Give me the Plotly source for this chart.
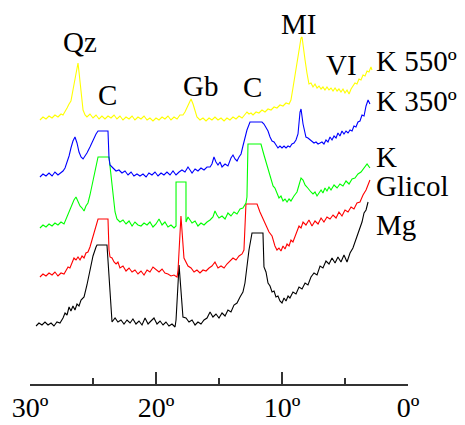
import plotly.graph_objects as go

# ---- data: 2-theta (degrees) and intensity (arbitrary units, offset per trace) ----
theta_mg = [29.52, 29.29, 29.05, 28.81, 28.57, 28.33, 28.10, 27.86, 27.62, 27.38, 27.22, 27.06, 26.90, 26.75, 26.59,
            26.43, 26.27, 26.11, 25.95, 25.71, 25.48, 25.24, 25.00, 24.76, 24.68, 23.89, 23.49, 23.25, 23.02, 22.78,
            22.54, 22.30, 22.06, 21.83, 21.59, 21.35, 21.11, 20.87, 20.63, 20.40, 20.16, 19.92, 19.68, 19.44, 19.21,
            18.97, 18.73, 18.49, 18.41, 18.17, 17.94, 17.86, 17.62, 17.38, 17.14, 16.90, 16.67, 16.43, 16.19, 15.95,
            15.71, 15.48, 15.24, 15.00, 14.76, 14.52, 14.29, 14.05, 13.81, 13.57, 13.33, 13.10, 12.94, 12.78, 12.62,
            12.38, 11.51, 11.43, 11.27, 11.11, 10.95, 10.79, 10.63, 10.48, 10.32, 10.16, 10.00, 9.84, 9.68, 9.52,
            9.37, 9.13, 8.89, 8.65, 8.41, 8.17, 7.94, 7.70, 7.46, 7.22, 6.98, 6.75, 6.51, 6.27, 6.03,
            5.79, 5.56, 5.32, 5.08, 4.84, 4.60, 4.37, 4.13, 3.89, 3.65, 3.49, 3.33, 3.17]
int_mg = [58, 61, 59, 62, 59, 61, 58, 62, 61, 66, 71, 69, 77, 73, 78,
          74, 80, 78, 84, 87, 99, 114, 128, 137, 139, 139, 62, 66, 62, 64,
          60, 64, 61, 65, 60, 63, 59, 66, 60, 63, 66, 60, 63, 59, 62,
          58, 60, 57, 64, 119, 84, 67, 66, 62, 64, 59, 62, 60, 64, 66,
          72, 67, 70, 66, 71, 68, 74, 72, 79, 81, 87, 92, 101, 119, 134,
          151, 151, 117, 112, 101, 98, 92, 93, 87, 88, 83, 81, 86, 83, 88,
          86, 92, 90, 97, 95, 101, 99, 107, 111, 109, 118, 116, 123, 120, 126,
          121, 127, 122, 129, 122, 131, 136, 144, 152, 162, 171, 174, 182]

theta_glicol = [29.21, 28.97, 28.73, 28.49, 28.25, 28.02, 27.78, 27.54, 27.30, 27.14, 26.98, 26.83, 26.67, 26.51, 26.35,
                26.19, 26.03, 25.87, 25.71, 25.56, 25.40, 25.24, 25.08, 24.92, 24.76, 24.60, 23.81, 23.73, 23.65, 23.49,
                23.33, 23.17, 23.02, 22.86, 22.62, 22.38, 22.14, 21.90, 21.67, 21.43, 21.19, 20.95, 20.71, 20.48, 20.24,
                20.00, 19.76, 19.52, 19.29, 19.05, 18.81, 18.57, 18.33, 18.25, 18.02, 17.78, 17.62, 17.46, 17.22, 16.98,
                16.75, 16.51, 16.27, 16.03, 15.79, 15.56, 15.32, 15.08, 14.84, 14.60, 14.37, 14.13, 13.89, 13.65, 13.41,
                13.17, 13.02, 12.86, 11.98, 11.75, 11.51, 11.27, 11.03, 10.79, 10.56, 10.40, 10.24, 10.08, 9.92, 9.76,
                9.60, 9.44, 9.29, 9.13, 8.97, 8.81, 8.65, 8.49, 8.33, 8.10, 7.86, 7.62, 7.38, 7.14, 6.90,
                6.67, 6.43, 6.19, 5.95, 5.71, 5.48, 5.24, 5.00, 4.76, 4.52, 4.29, 4.05, 3.81, 3.57, 3.33,
                3.17, 3.02]
int_glicol = [107, 110, 108, 111, 109, 112, 108, 111, 110, 114, 117, 116, 122, 126, 124,
              127, 124, 128, 126, 131, 132, 137, 144, 151, 158, 165, 165, 134, 127, 126,
              122, 120, 122, 116, 118, 113, 116, 112, 114, 110, 113, 109, 114, 112, 117,
              114, 112, 115, 111, 110, 108, 109, 107, 114, 168, 126, 122, 118, 116, 112,
              114, 111, 114, 113, 116, 118, 122, 116, 118, 116, 120, 123, 126, 124, 128,
              130, 134, 180, 180, 172, 165, 158, 152, 148, 138, 134, 136, 133, 138, 135,
              140, 138, 144, 142, 148, 152, 158, 156, 162, 159, 164, 158, 163, 160, 166,
              162, 167, 165, 169, 166, 172, 168, 174, 172, 177, 175, 181, 182, 189, 194,
              199, 204]

theta_k = [29.21, 28.97, 28.73, 28.49, 28.25, 28.02, 27.78, 27.54, 27.30, 27.14, 26.98, 26.83, 26.67, 26.51, 26.35,
           26.19, 26.03, 25.87, 25.71, 25.56, 25.40, 25.24, 25.08, 24.92, 24.76, 24.60, 23.73, 23.57, 23.41, 23.25,
           23.10, 22.86, 22.62, 22.38, 22.14, 21.90, 21.67, 21.43, 21.19, 20.95, 20.71, 20.48, 20.24, 20.00, 19.76,
           19.52, 19.29, 19.05, 18.81, 18.57, 18.41, 18.41, 17.62, 17.62, 17.46, 17.30, 17.14, 16.90, 16.67, 16.43,
           16.19, 15.95, 15.71, 15.48, 15.32, 15.16, 15.00, 14.76, 14.52, 14.29, 14.05, 13.81, 13.57, 13.33, 13.10,
           12.86, 12.78, 12.70, 11.67, 11.43, 11.19, 10.95, 10.71, 10.56, 10.40, 10.24, 10.08, 9.92, 9.76, 9.60,
           9.44, 9.29, 9.05, 8.81, 8.65, 8.49, 8.33, 8.17, 8.02, 7.86, 7.70, 7.54, 7.38, 7.22, 7.06,
           6.90, 6.75, 6.59, 6.43, 6.27, 6.11, 5.87, 5.63, 5.40, 5.16, 4.92, 4.68, 4.44, 4.21, 3.97,
           3.73, 3.49, 3.25, 3.02]
int_k = [156, 159, 157, 160, 158, 161, 159, 162, 160, 165, 168, 174, 178, 184, 187,
         182, 178, 176, 173, 178, 181, 189, 199, 209, 219, 227, 227, 209, 189, 172,
         165, 162, 164, 160, 163, 158, 162, 159, 158, 161, 159, 162, 157, 160, 165,
         159, 162, 157, 159, 156, 158, 202, 202, 162, 167, 164, 161, 163, 158, 161,
         159, 162, 164, 167, 173, 169, 166, 168, 165, 171, 168, 172, 170, 175, 176,
         181, 187, 240, 240, 229, 218, 207, 198, 196, 191, 186, 188, 183, 185, 182,
         185, 183, 188, 192, 199, 206, 204, 199, 197, 194, 192, 190, 192, 188, 191,
         194, 191, 196, 193, 197, 194, 199, 196, 200, 198, 203, 200, 205, 206, 210,
         212, 216, 220, 216]

theta_k350 = [29.21, 28.97, 28.73, 28.49, 28.25, 28.02, 27.78, 27.54, 27.38, 27.22, 27.06, 26.90, 26.75, 26.59, 26.43,
              26.27, 26.11, 25.95, 25.79, 25.63, 25.48, 25.24, 25.00, 24.76, 24.60, 23.81, 23.73, 23.65, 23.41, 23.17,
              22.94, 22.70, 22.46, 22.22, 21.98, 21.75, 21.51, 21.27, 21.03, 20.79, 20.56, 20.32, 20.08, 19.84, 19.60,
              19.37, 19.13, 18.89, 18.65, 18.41, 18.17, 17.94, 17.70, 17.46, 17.30, 17.14, 16.90, 16.67, 16.43, 16.19,
              15.95, 15.71, 15.56, 15.40, 15.24, 15.08, 14.92, 14.76, 14.52, 14.29, 14.05, 13.89, 13.73, 13.57, 13.41,
              13.25, 13.10, 12.94, 12.78, 12.54, 11.59, 11.43, 11.27, 11.11, 10.95, 10.79, 10.63, 10.48, 10.32, 10.16,
              10.00, 9.84, 9.68, 9.52, 9.37, 9.21, 9.05, 8.89, 8.73, 8.57, 8.49, 8.33, 8.17, 8.10, 7.94, 7.78,
              7.62, 7.46, 7.30, 7.14, 6.98, 6.83, 6.67, 6.51, 6.35, 6.19, 6.03, 5.87, 5.71, 5.56, 5.40,
              5.24, 5.08, 4.92, 4.76, 4.60, 4.44, 4.29, 4.13, 3.97, 3.81, 3.65, 3.49, 3.33, 3.17, 3.02]
int_k350 = [207, 210, 208, 211, 208, 212, 209, 211, 213, 216, 221, 228, 236, 243, 247,
            241, 232, 227, 225, 228, 231, 237, 244, 250, 253, 253, 226, 219, 216, 213,
            214, 211, 213, 209, 212, 208, 210, 208, 210, 207, 211, 209, 212, 208, 211,
            209, 212, 209, 213, 209, 212, 214, 212, 217, 214, 211, 215, 213, 216, 214,
            217, 217, 220, 227, 222, 219, 222, 217, 220, 218, 226, 229, 225, 223, 227,
            230, 238, 246, 254, 262, 262, 260, 256, 253, 247, 243, 242, 239, 236, 238,
            236, 238, 236, 238, 237, 240, 241, 244, 250, 272, 275, 260, 250, 247, 246, 244,
            243, 241, 242, 240, 241, 242, 240, 244, 242, 247, 244, 248, 246, 251, 248,
            253, 250, 253, 251, 254, 253, 258, 257, 262, 263, 269, 268, 278, 284, 280]

theta_k550 = [29.21, 28.97, 28.73, 28.49, 28.25, 28.02, 27.78, 27.54, 27.38, 27.22, 27.06, 26.90, 26.75, 26.59, 26.43,
              26.27, 26.19, 26.11, 25.95, 25.79, 25.63, 25.48, 25.24, 25.00, 24.76, 24.52, 24.29, 24.05, 23.81, 23.57,
              23.33, 23.10, 22.86, 22.62, 22.38, 22.14, 21.90, 21.67, 21.43, 21.19, 20.95, 20.71, 20.48, 20.24, 20.00,
              19.76, 19.52, 19.29, 19.05, 18.81, 18.57, 18.33, 18.10, 17.86, 17.70, 17.54, 17.38, 17.22, 17.06, 16.90,
              16.75, 16.51, 16.27, 16.03, 15.79, 15.56, 15.32, 15.08, 14.84, 14.60, 14.37, 14.13, 13.89, 13.65, 13.41,
              13.17, 12.94, 12.78, 12.62, 12.46, 12.30, 12.06, 11.83, 11.59, 11.35, 11.11, 10.87, 10.63, 10.40, 10.16,
              9.92, 9.68, 9.44, 9.29, 9.13, 8.97, 8.81, 8.65, 8.49, 8.41, 8.33, 8.17, 8.02, 7.86, 7.70,
              7.54, 7.38, 7.22, 7.06, 6.90, 6.75, 6.59, 6.43, 6.27, 6.11, 5.95, 5.79, 5.63, 5.48, 5.32,
              5.16, 5.00, 4.84, 4.68, 4.52, 4.37, 4.21, 4.05, 3.89, 3.73, 3.57, 3.41, 3.25, 3.10, 2.94,
              2.86]
int_k550 = [264, 267, 265, 268, 266, 269, 267, 270, 269, 272, 276, 280, 283, 294, 305,
            316, 321, 312, 293, 274, 269, 267, 270, 266, 269, 265, 268, 265, 268, 266,
            269, 265, 268, 264, 267, 265, 268, 264, 267, 265, 268, 264, 266, 263, 266,
            264, 267, 265, 268, 264, 267, 265, 269, 269, 272, 276, 281, 285, 280, 272,
            267, 264, 266, 263, 266, 264, 267, 264, 266, 263, 266, 264, 267, 265, 268,
            266, 269, 272, 270, 271, 269, 272, 271, 274, 272, 275, 274, 277, 276, 279,
            278, 281, 280, 284, 296, 309, 322, 334, 346, 347, 338, 324, 311, 300, 301,
            297, 300, 296, 298, 295, 297, 294, 297, 294, 296, 293, 296, 293, 295, 292,
            295, 291, 294, 290, 295, 298, 301, 300, 305, 304, 309, 308, 313, 312, 317,
            314]

series_names = ["Mg", "Glicol", "K", "K 350º", "K 550º"]
series_x = [theta_mg, theta_glicol, theta_k, theta_k350, theta_k550]
series_y = [int_mg, int_glicol, int_k, int_k350, int_k550]
series_colors = ["#000000", "#ff0000", "#00ff00", "#0000ff", "#ffff00"]

tick_vals = [30, 20, 10, 0]
tick_text = ["30º", "20º", "10º", "0º"]
minor_vals = [25, 15, 5]

peak_labels = ["Qz", "C", "Gb", "C", "MI", "VI"]
peak_x = [26.03, 23.81, 16.43, 12.38, 8.69, 5.24]
peak_y = [342, 289, 298, 297, 360, 319]
series_label_y = [159, 198, 227, 283, 323]
series_label_x = 2.62

for n, xs, ys in zip(series_names, series_x, series_y):
    if len(xs) != len(ys):
        raise ValueError(f"{n}: {len(xs)} vs {len(ys)}")

FONT = "Liberation Serif"

fig = go.Figure()
for n, xs, ys, c in zip(series_names, series_x, series_y, series_colors):
    fig.add_trace(go.Scatter(x=xs, y=ys, mode="lines", name=n,
                             line=dict(color=c, width=1.1), showlegend=False,
                             hoverinfo="skip"))

annotations = []
for t, x, y in zip(peak_labels, peak_x, peak_y):
    annotations.append(dict(text=t, x=x, y=y, xref="x", yref="y", showarrow=False,
                            xanchor="center", yanchor="middle", borderpad=0,
                            font=dict(family=FONT, size=29, color="black")))
for t, y in zip(series_names, series_label_y):
    annotations.append(dict(text=t, x=series_label_x, y=y, xref="x", yref="y", showarrow=False,
                            xanchor="left", yanchor="middle", borderpad=0,
                            font=dict(family=FONT, size=29, color="black")))

# page body has an 8px margin, so the figure is sized and offset accordingly
fig.update_layout(
    width=457, height=417,
    margin=dict(l=22, r=57, t=0, b=41, pad=0, autoexpand=False),
    paper_bgcolor="white", plot_bgcolor="white",
    annotations=annotations,
    xaxis=dict(range=[30, 0], showgrid=False, zeroline=False, automargin=False,
               showline=True, linecolor="#333333", linewidth=1.5,
               ticks="inside", ticklen=12, tickwidth=1.5, tickcolor="#333333",
               tickvals=tick_vals, ticktext=tick_text, ticklabelstandoff=-2,
               tickfont=dict(family=FONT, size=28, color="black"),
               minor=dict(ticks="inside", ticklen=6, tickwidth=1.5, tickcolor="#333333",
                          tickvals=minor_vals, showgrid=False)),
    yaxis=dict(range=[0, 376], visible=False, showgrid=False, zeroline=False),
)

fig.write_html("out.html")
